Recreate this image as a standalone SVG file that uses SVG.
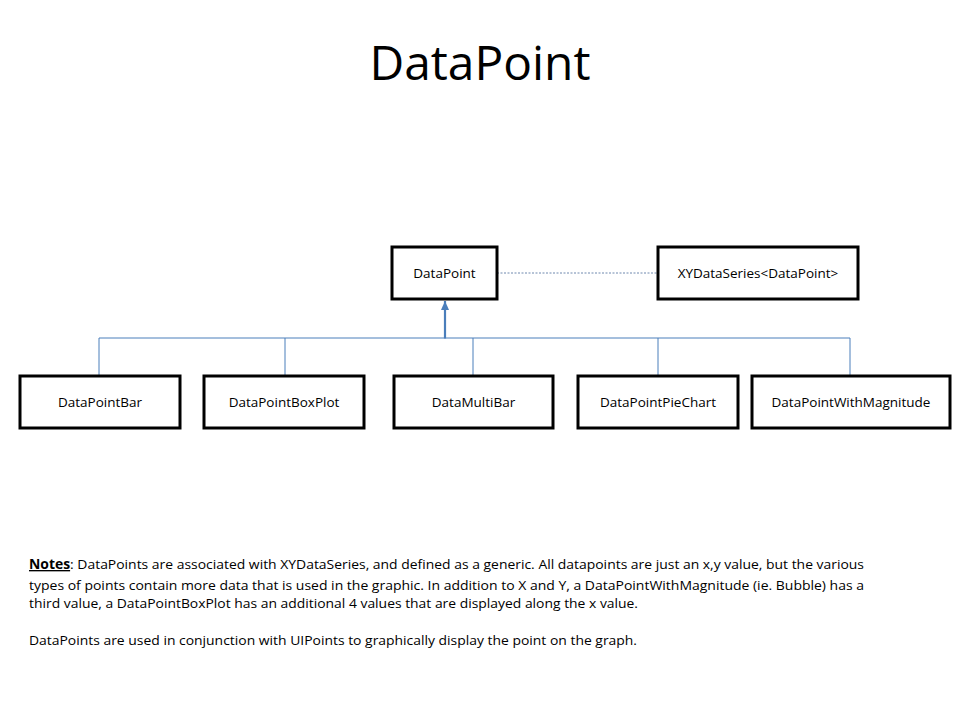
<svg xmlns="http://www.w3.org/2000/svg" width="960" height="720" viewBox="0 0 960 720">
<style>
.box{fill:#fff;stroke:#000;stroke-width:3}
.lbl{font-family:"Open Sans","Liberation Sans",sans-serif;font-size:13.5px;fill:#000;text-anchor:middle}
.note{font-family:"Open Sans","Liberation Sans",sans-serif;font-size:13.5px;fill:#000}
.tree{fill:none;stroke:#4a7ebb;stroke-width:1}
</style>
<defs>
<marker id="tri" markerWidth="10" markerHeight="10" refX="9" refY="5" orient="auto" markerUnits="userSpaceOnUse" viewBox="0 0 10 10">
<path d="M0,1 L9,5 L0,9 Z" fill="#4a7ebb"/>
</marker>
</defs>
<rect width="960" height="720" fill="#fff"/>
<text x="480" y="80" font-family="'Open Sans','Liberation Sans',sans-serif" font-size="48" text-anchor="middle" textLength="221" lengthAdjust="spacingAndGlyphs">DataPoint</text>
<g id="connectors">
<line x1="497" y1="273" x2="658" y2="273" stroke="#4a6b9a" stroke-width="0.8" stroke-dasharray="2,1.5"/>
<path class="tree" d="M99,376 V338 H850 V376 M285,338 V376 M473,338 V376 M658,338 V376"/>
<line x1="445" y1="338.5" x2="445" y2="301" stroke="#4a7ebb" stroke-width="2.2" marker-end="url(#tri)"/>
</g>
<g id="DataPoint"><rect class="box" x="392" y="247" width="105" height="52"/><text class="lbl" x="444.5" y="278">DataPoint</text></g>
<g id="XYDataSeries"><rect class="box" x="658" y="247" width="200" height="52"/><text class="lbl" x="758" y="278">XYDataSeries&lt;DataPoint&gt;</text></g>
<g id="DataPointBar"><rect class="box" x="20" y="376" width="160" height="52"/><text class="lbl" x="100" y="407">DataPointBar</text></g>
<g id="DataPointBoxPlot"><rect class="box" x="204" y="376" width="160" height="52"/><text class="lbl" x="284" y="407">DataPointBoxPlot</text></g>
<g id="DataMultiBar"><rect class="box" x="394" y="376" width="159" height="52"/><text class="lbl" x="473.5" y="407">DataMultiBar</text></g>
<g id="DataPointPieChart"><rect class="box" x="578" y="376" width="160" height="52"/><text class="lbl" x="658" y="407">DataPointPieChart</text></g>
<g id="DataPointWithMagnitude"><rect class="box" x="752" y="376" width="198" height="52"/><text class="lbl" x="851" y="407">DataPointWithMagnitude</text></g>
<g id="notes">
<text class="note" x="29" y="569" textLength="835" lengthAdjust="spacingAndGlyphs"><tspan font-weight="bold" text-decoration="underline">Notes</tspan>: DataPoints are associated with XYDataSeries, and defined as a generic. All datapoints are just an x,y value, but the various</text>
<text class="note" x="29" y="590" textLength="835" lengthAdjust="spacingAndGlyphs">types of points contain more data that is used in the graphic. In addition to X and Y, a DataPointWithMagnitude (ie. Bubble) has a</text>
<text class="note" x="29" y="608" textLength="609" lengthAdjust="spacingAndGlyphs">third value, a DataPointBoxPlot has an additional 4 values that are displayed along the x value.</text>
<text class="note" x="29" y="645" textLength="608" lengthAdjust="spacingAndGlyphs">DataPoints are used in conjunction with UIPoints to graphically display the point on the graph.</text>
</g>
</svg>
